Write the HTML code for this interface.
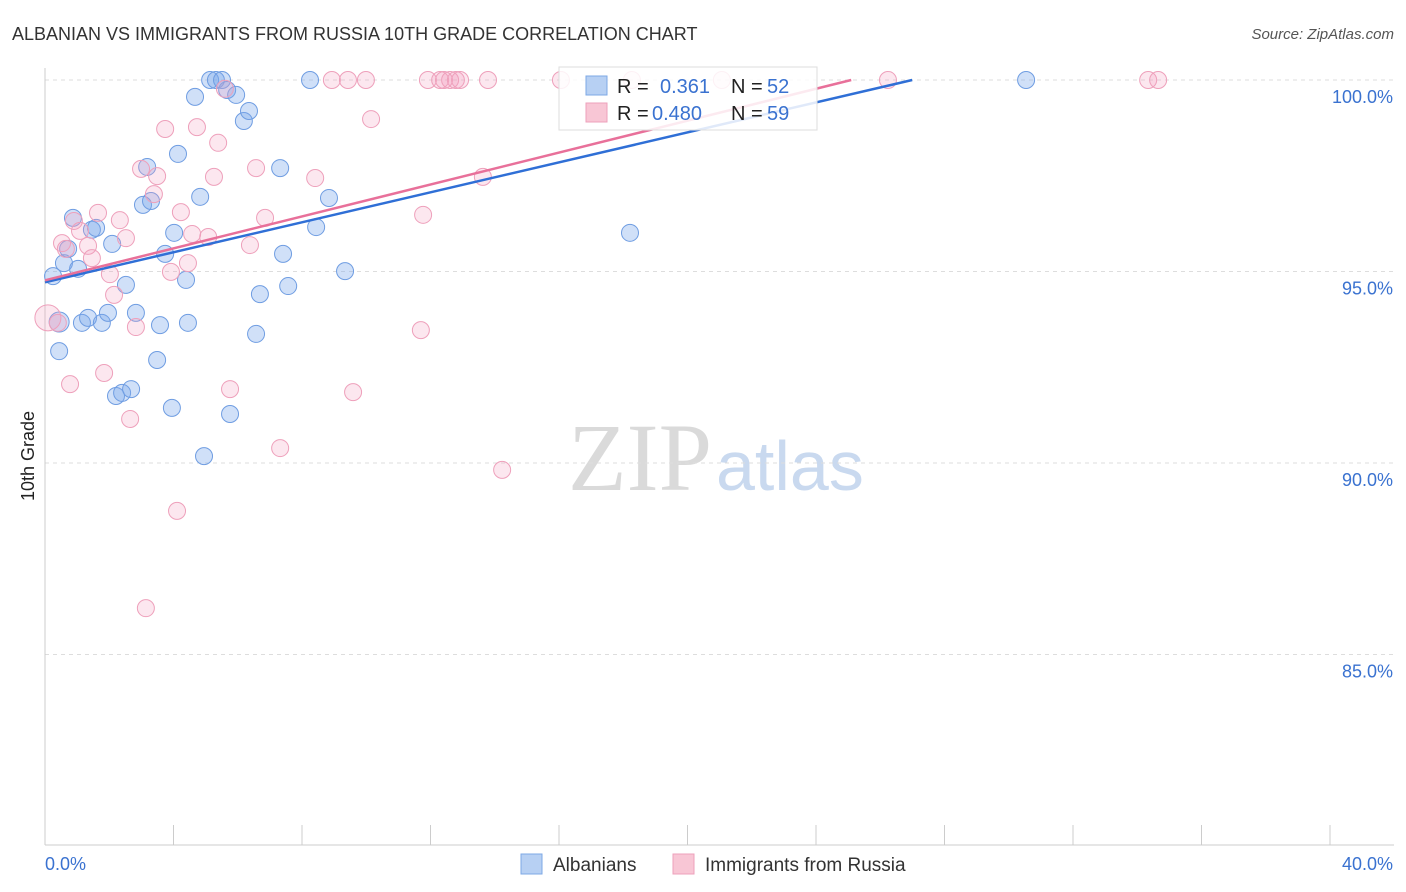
<!DOCTYPE html>
<html><head><meta charset="utf-8"><style>
body{margin:0;background:#fff;font-family:"Liberation Sans",sans-serif;}
#wrap{position:relative;width:1406px;height:892px;overflow:hidden;}
</style></head><body>
<div id="wrap">
<svg id="svg" width="1406" height="892" xmlns="http://www.w3.org/2000/svg">
<text x="12" y="40" font-size="18" fill="#333">ALBANIAN VS IMMIGRANTS FROM RUSSIA 10TH GRADE CORRELATION CHART</text>
<text x="1394" y="39" font-size="15" fill="#555" font-style="italic" text-anchor="end">Source: ZipAtlas.com</text>
<text x="34" y="456" font-size="18" fill="#222" text-anchor="middle" transform="rotate(-90 34 456)">10th Grade</text>
<text x="712" y="490" font-size="96" fill="#dadada" text-anchor="end" font-family="Liberation Serif,serif">ZIP</text>
<text x="716" y="490" font-size="70" fill="#c9d9ef">atlas</text>
<g id="grid"></g><g id="marks"></g><g id="lines"></g>
<g>
<rect x="559" y="67" width="258" height="63" fill="#fff" fill-opacity="0.85" stroke="#ddd"/>
<rect x="586" y="76" width="21" height="19" fill="#b7d0f3" stroke="#7ea8e6"/>
<rect x="586" y="103" width="21" height="19" fill="#f8c6d5" stroke="#eea0bb"/>
<text x="617" y="93" font-size="20" fill="#222">R = </text><text x="660" y="93" font-size="20" fill="#3a72d0">0.361</text>
<text x="731" y="93" font-size="20" fill="#222">N = </text><text x="767" y="93" font-size="20" fill="#3a72d0">52</text>
<text x="617" y="120" font-size="20" fill="#222">R = </text><text x="652" y="120" font-size="20" fill="#3a72d0">0.480</text>
<text x="731" y="120" font-size="20" fill="#222">N = </text><text x="767" y="120" font-size="20" fill="#3a72d0">59</text>
</g>
<g>
<rect x="521" y="854" width="21" height="20" fill="#b7d0f3" stroke="#7ea8e6"/>
<text x="553" y="871" font-size="19" fill="#333">Albanians</text>
<rect x="673" y="854" width="21" height="20" fill="#f8c6d5" stroke="#eea0bb"/>
<text x="705" y="871" font-size="19" fill="#333">Immigrants from Russia</text>
</g>
</svg></div>
<script>
const xTicks=[0,40];
const yTicks=[85,90,95,100];
const blueX=[0.25,0.44,0.44,0.59,0.72,0.87,1.03,1.15,1.34,1.46,1.59,1.77,2.09,1.96,2.52,2.83,2.21,2.40,2.68,3.05,3.18,3.30,3.49,3.58,3.74,4.02,3.95,4.14,4.39,4.45,4.67,4.83,4.95,5.14,5.32,5.51,5.67,5.76,5.95,6.19,6.35,6.69,6.57,7.32,7.41,7.57,8.25,8.44,8.84,9.34,18.21,30.54];
const blueY=[94.88,93.68,92.92,95.22,95.59,96.40,95.07,93.66,93.79,96.09,96.14,93.66,95.72,93.92,94.65,93.92,91.75,91.83,91.93,96.74,97.73,96.84,92.69,93.60,95.46,96.01,91.44,98.07,94.78,93.66,99.56,96.95,90.18,100,100,100,99.74,91.28,99.61,98.93,99.19,94.41,93.37,97.70,95.46,94.62,100,96.16,96.92,95.01,96.01,100];
const pinkX=[0.09,0.40,0.53,0.65,0.78,0.90,1.09,1.34,1.46,1.65,1.84,2.02,2.15,2.33,2.52,2.65,2.83,2.99,3.14,3.39,3.49,3.74,3.92,4.11,4.23,4.45,4.58,4.73,5.08,5.26,5.39,5.60,5.76,6.38,6.57,6.85,7.32,8.41,8.93,9.43,9.59,9.99,10.15,11.70,11.77,11.92,12.30,12.42,12.61,12.79,12.92,13.63,13.79,14.23,16.06,18.27,21.07,26.24,34.34,34.65];
const pinkY=[93.79,93.66,95.74,95.59,92.06,96.32,96.06,95.67,95.35,96.53,92.35,94.93,94.39,96.34,95.87,91.15,93.55,97.68,86.21,97.02,97.49,98.72,94.99,88.75,96.55,95.22,95.98,98.77,95.90,97.47,98.36,99.77,91.93,95.69,97.70,96.40,90.39,97.44,100,100,91.85,100,98.98,93.47,96.48,100,100,100,100,100,100,97.47,100,89.82,100,100,100,100,100,100];
const blueFit=[94.72,0.1956];
const pinkFit=[94.77,0.2084];
const X=v=>45+v/40*1285, Y=v=>80+(100-v)*38.3;
const NS='http://www.w3.org/2000/svg';
function mk(t,a,p){const e=document.createElementNS(NS,t);for(const k in a)e.setAttribute(k,a[k]);p.appendChild(e);return e;}
const grid=document.getElementById('grid'),marks=document.getElementById('marks'),lines=document.getElementById('lines');
yTicks.forEach(v=>{const l=mk('line',{x1:45,x2:1394,y1:Y(v),y2:Y(v),stroke:'#ddd','stroke-dasharray':'4 4'},grid);


const t=mk('text',{x:1393,y:Y(v)+23,'font-size':18,fill:'#3a72d0','text-anchor':'end'},grid);t.textContent=v.toFixed(1)+'%';

});
const ax=mk('line',{x1:45,x2:45,y1:68,y2:845,stroke:'#ccc'},grid);


const bx=mk('line',{x1:45,x2:1394,y1:845,y2:845,stroke:'#ccc'},grid);


for(let i=0;i<=10;i++){const tk=mk('line',{x1:X(i*4),x2:X(i*4),y1:825,y2:845,stroke:'#ccc'},grid);

}
xTicks.forEach((v,i)=>{const t=mk('text',{x:i?1393:45,y:870,'font-size':18,fill:'#3a72d0','text-anchor':i?'end':'start'},grid);t.textContent=v.toFixed(1)+'%';

});
function pts(xs,ys,fill,stroke,name){xs.forEach((x,i)=>{const r=(name==='pink-point'&&i===0)?13:(name==='blue-point'&&i===1?10:8.5);
const c=mk('circle',{cx:X(x),cy:Y(ys[i]),r:r,fill:fill,stroke:stroke,'stroke-width':1},marks);

});}
pts(blueX,blueY,'rgba(120,165,235,0.35)','#6f9de2','blue-point');
pts(pinkX,pinkY,'rgba(245,160,190,0.25)','#eea0bb','pink-point');
function fit(f,col,name){const x2=(100-f[0])/f[1];const l=mk('line',{x1:X(0),y1:Y(f[0]),x2:X(x2),y2:Y(100),stroke:col,'stroke-width':2.5},lines);

}
fit(blueFit,'#2f6fd6','albanians-trendline');
fit(pinkFit,'#e8709a','russia-trendline');
</script>
</body></html>
